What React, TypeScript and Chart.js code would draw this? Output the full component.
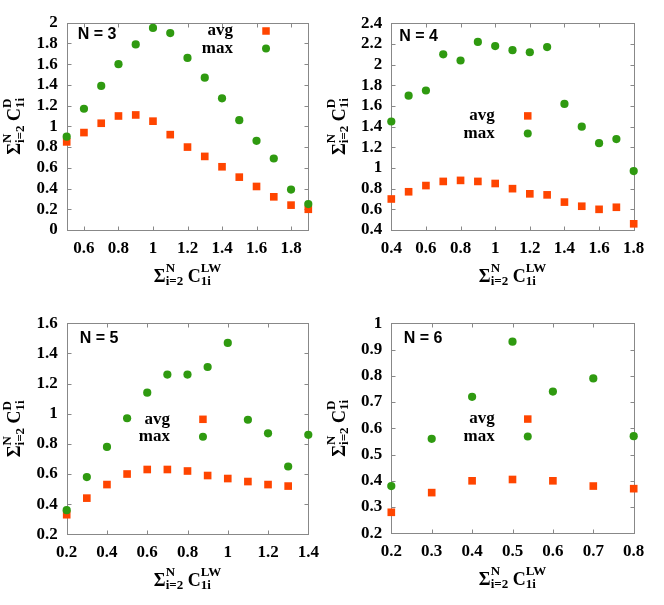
import React, { useEffect, useRef } from "react";
import { Chart, registerables } from "chart.js";

Chart.register(...registerables);

// ---------- data ----------
const n3X = [0.5, 0.6, 0.7, 0.8, 0.9, 1.0, 1.1, 1.2, 1.3, 1.4, 1.5, 1.6, 1.7, 1.8, 1.9];
const n3Avg = [0.85, 0.94, 1.03, 1.1, 1.11, 1.05, 0.92, 0.8, 0.71, 0.61, 0.51, 0.42, 0.32, 0.24, 0.2];
const n3Max = [0.9, 1.17, 1.39, 1.6, 1.79, 1.95, 1.9, 1.66, 1.47, 1.27, 1.06, 0.86, 0.69, 0.39, 0.25];
const n3XTicks = [0.6, 0.8, 1, 1.2, 1.4, 1.6, 1.8];
const n3YTicks = [0, 0.2, 0.4, 0.6, 0.8, 1, 1.2, 1.4, 1.6, 1.8, 2];

const n4X = [0.4, 0.5, 0.6, 0.7, 0.8, 0.9, 1.0, 1.1, 1.2, 1.3, 1.4, 1.5, 1.6, 1.7, 1.8];
const n4Avg = [0.7, 0.77, 0.83, 0.87, 0.88, 0.87, 0.85, 0.8, 0.75, 0.74, 0.67, 0.63, 0.6, 0.62, 0.46];
const n4Max = [1.45, 1.7, 1.75, 2.1, 2.04, 2.22, 2.18, 2.14, 2.12, 2.17, 1.62, 1.4, 1.24, 1.28, 0.97];
const n4XTicks = [0.4, 0.6, 0.8, 1, 1.2, 1.4, 1.6, 1.8];
const n4YTicks = [0.4, 0.6, 0.8, 1, 1.2, 1.4, 1.6, 1.8, 2, 2.2, 2.4];

const n5X = [0.2, 0.3, 0.4, 0.5, 0.6, 0.7, 0.8, 0.9, 1.0, 1.1, 1.2, 1.3, 1.4];
const n5Avg = [0.33, 0.44, 0.53, 0.6, 0.63, 0.63, 0.62, 0.59, 0.57, 0.55, 0.53, 0.52];
const n5Max = [0.36, 0.58, 0.78, 0.97, 1.14, 1.26, 1.26, 1.31, 1.47, 0.96, 0.87, 0.65, 0.86];
const n5XTicks = [0.2, 0.4, 0.6, 0.8, 1, 1.2, 1.4];
const n5YTicks = [0.2, 0.4, 0.6, 0.8, 1, 1.2, 1.4, 1.6];

const n6X = [0.2, 0.3, 0.4, 0.5, 0.6, 0.7, 0.8];
const n6Avg = [0.28, 0.355, 0.4, 0.405, 0.4, 0.38, 0.37];
const n6Max = [0.38, 0.56, 0.72, 0.93, 0.74, 0.79, 0.57];
const n6XTicks = [0.2, 0.3, 0.4, 0.5, 0.6, 0.7, 0.8];
const n6YTicks = [0.2, 0.3, 0.4, 0.5, 0.6, 0.7, 0.8, 0.9, 1];

const legendLabels = ["avg", "max"];

// ---------- styles ----------
const ORANGE = "#ff4500";
const GREEN = "#2f9a10";
const FRAME = "#888888";
const SERIF = "'Liberation Serif', 'Times New Roman', serif";
const SANS = "'Liberation Sans', Arial, sans-serif";

type Panel = {
  label: string;
  x: number[];
  avg: number[];
  max: number[];
  xMin: number;
  xMax: number;
  yMin: number;
  yMax: number;
  xTicks: number[];
  yTicks: number[];
  pos: { left: number; top: number; w: number; h: number };
  area: { l: number; t: number; r: number; b: number };
  legend: { fx: number; fy: number };
  tag: { dx: number; dy: number };
};

const PANELS: Panel[] = [
  {
    label: "N = 3", x: n3X, avg: n3Avg, max: n3Max, xMin: 0.5, xMax: 1.9, yMin: 0, yMax: 2,
    xTicks: n3XTicks, yTicks: n3YTicks,
    pos: { left: 0, top: 0, w: 332, h: 302 },
    area: { l: 66.7, t: 22.7, r: 308.3, b: 230 },
    legend: { fx: 0.825, fy: 0.04 },
    tag: { dx: 11, dy: 12 },
  },
  {
    label: "N = 4", x: n4X, avg: n4Avg, max: n4Max, xMin: 0.4, xMax: 1.8, yMin: 0.4, yMax: 2.4,
    xTicks: n4XTicks, yTicks: n4YTicks,
    pos: { left: 312, top: 0, w: 352, h: 302 },
    area: { l: 391.3, t: 23.3, r: 633.7, b: 230 },
    legend: { fx: 0.563, fy: 0.448 },
    tag: { dx: 8, dy: 13.4 },
  },
  {
    label: "N = 5", x: n5X, avg: n5Avg, max: n5Max, xMin: 0.2, xMax: 1.4, yMin: 0.2, yMax: 1.6,
    xTicks: n5XTicks, yTicks: n5YTicks,
    pos: { left: 0, top: 302, w: 332, h: 303 },
    area: { l: 66.7, t: 323.3, r: 308.3, b: 534.3 },
    legend: { fx: 0.564, fy: 0.455 },
    tag: { dx: 13, dy: 15 },
  },
  {
    label: "N = 6", x: n6X, avg: n6Avg, max: n6Max, xMin: 0.2, xMax: 0.8, yMin: 0.2, yMax: 1.0,
    xTicks: n6XTicks, yTicks: n6YTicks,
    pos: { left: 312, top: 302, w: 352, h: 303 },
    area: { l: 391.3, t: 323.3, r: 633.7, b: 533.3 },
    legend: { fx: 0.563, fy: 0.456 },
    tag: { dx: 12.4, dy: 15.7 },
  },
];

type MathPart = { t: string; sup?: string; sub?: string };
const xTitleParts: MathPart[] = [
  { t: "Σ", sup: "N", sub: "i=2" },
  { t: " " },
  { t: "C", sup: "LW", sub: "1i" },
];
const yTitleParts: MathPart[] = [
  { t: "Σ", sup: "N", sub: "i=2" },
  { t: " " },
  { t: "C", sup: "D", sub: "1i" },
];

const MAIN_FONT = `bold 18px ${SERIF}`;
const SCRIPT_FONT = `bold 13px ${SERIF}`;

function measureMath(ctx: CanvasRenderingContext2D, parts: MathPart[]) {
  let w = 0;
  for (const p of parts) {
    ctx.font = MAIN_FONT;
    w += ctx.measureText(p.t).width;
    ctx.font = SCRIPT_FONT;
    const sw = Math.max(p.sup ? ctx.measureText(p.sup).width : 0, p.sub ? ctx.measureText(p.sub).width : 0);
    w += sw;
  }
  return w;
}

function drawMath(ctx: CanvasRenderingContext2D, parts: MathPart[], cx: number, baseY: number) {
  const total = measureMath(ctx, parts);
  let x = cx - total / 2;
  ctx.fillStyle = "#000";
  ctx.textBaseline = "alphabetic";
  ctx.textAlign = "left";
  for (const p of parts) {
    ctx.font = MAIN_FONT;
    ctx.fillText(p.t, x, baseY);
    x += ctx.measureText(p.t).width;
    ctx.font = SCRIPT_FONT;
    let sw = 0;
    if (p.sup) {
      ctx.fillText(p.sup, x, baseY - 9.5);
      sw = Math.max(sw, ctx.measureText(p.sup).width);
    }
    if (p.sub) {
      ctx.fillText(p.sub, x, baseY + 3.5);
      sw = Math.max(sw, ctx.measureText(p.sub).width);
    }
    x += sw;
  }
}

function makePlugin(p: Panel) {
  return {
    id: "decor",
    beforeDatasetsDraw(chart: any) {
      const { ctx, chartArea: a, scales } = chart;
      ctx.save();
      ctx.strokeStyle = FRAME;
      ctx.lineWidth = 1;
      const L = Math.round(a.left) + 0.5;
      const R = Math.round(a.right) + 0.5;
      const T = Math.round(a.top) + 0.5;
      const B = Math.round(a.bottom) + 0.5;
      ctx.strokeRect(L, T, R - L, B - T);
      const tl = 4;
      ctx.beginPath();
      for (const t of scales.x.ticks) {
        const px = Math.round(scales.x.getPixelForValue(t.value)) + 0.5;
        ctx.moveTo(px, B);
        ctx.lineTo(px, B - tl);
        ctx.moveTo(px, T);
        ctx.lineTo(px, T + tl);
      }
      for (const t of scales.y.ticks) {
        const py = Math.round(scales.y.getPixelForValue(t.value)) + 0.5;
        ctx.moveTo(L, py);
        ctx.lineTo(L + tl, py);
        ctx.moveTo(R, py);
        ctx.lineTo(R - tl, py);
      }
      ctx.stroke();
      ctx.restore();
    },
    afterDraw(chart: any) {
      const { ctx, chartArea: a } = chart;
      const w = a.right - a.left;
      const h = a.bottom - a.top;
      ctx.save();
      // panel tag
      ctx.font = `bold 16px ${SANS}`;
      ctx.fillStyle = "#000";
      ctx.textAlign = "left";
      ctx.textBaseline = "middle";
      ctx.fillText(p.label, a.left + p.tag.dx, a.top + p.tag.dy);
      // legend
      const mx = a.left + p.legend.fx * w;
      const my = a.top + p.legend.fy * h;
      const rowGap = 17.5;
      ctx.font = `bold 17px ${SERIF}`;
      ctx.textAlign = "right";
      ctx.textBaseline = "middle";
      ctx.fillText(legendLabels[0], mx - 33, my);
      ctx.fillText(legendLabels[1], mx - 33, my + rowGap);
      ctx.fillStyle = ORANGE;
      ctx.fillRect(mx - 3.75, my - 3.75, 7.5, 7.5);
      ctx.fillStyle = GREEN;
      ctx.beginPath();
      ctx.arc(mx, my + rowGap, 4, 0, Math.PI * 2);
      ctx.fill();
      // axis titles
      const cx = (a.left + a.right) / 2;
      drawMath(ctx, xTitleParts, cx, a.bottom + 51.5);
      const cy = (a.top + a.bottom) / 2;
      ctx.translate(a.left - 46.5, cy);
      ctx.rotate(-Math.PI / 2);
      drawMath(ctx, yTitleParts, 0, 0);
      ctx.restore();
    },
  };
}

function PanelChart({ p }: { p: Panel }) {
  const ref = useRef<HTMLCanvasElement>(null);
  useEffect(() => {
    if (!ref.current) return;
    const tickFont = { family: SERIF, weight: "bold" as const, size: 17 };
    const chart = new Chart(ref.current, {
      type: "scatter",
      data: {
        datasets: [
          {
            label: legendLabels[1],
            data: p.max.map((y, i) => ({ x: p.x[i], y })),
            pointStyle: "circle",
            pointRadius: 4.1,
            backgroundColor: GREEN,
            borderColor: GREEN,
            borderWidth: 0,
            order: 0,
            clip: false,
          },
          {
            label: legendLabels[0],
            data: p.avg.map((y, i) => ({ x: p.x[i], y })),
            pointStyle: "rect",
            pointRadius: 5.4,
            backgroundColor: ORANGE,
            borderColor: ORANGE,
            borderWidth: 0,
            order: 1,
            clip: false,
          },
        ],
      },
      options: {
        animation: false,
        responsive: false,
        events: [],
        layout: {
          padding: {
            left: 0,
            top: p.area.t - p.pos.top,
            right: p.pos.left + p.pos.w - p.area.r,
            bottom: 0,
          },
        },
        plugins: { legend: { display: false }, tooltip: { enabled: false } },
        scales: {
          x: {
            type: "linear",
            min: p.xMin,
            max: p.xMax,
            afterBuildTicks: (s: any) => {
              s.ticks = p.xTicks.map((v) => ({ value: v }));
            },
            afterFit: (s: any) => {
              s.height = p.pos.top + p.pos.h - p.area.b;
            },
            grid: { display: false, drawTicks: false },
            border: { display: false },
            ticks: {
              padding: 8,
              color: "#000",
              font: tickFont,
              maxRotation: 0,
              autoSkip: false,
              callback: (v: any) => String(v),
            },
          },
          y: {
            type: "linear",
            min: p.yMin,
            max: p.yMax,
            afterBuildTicks: (s: any) => {
              s.ticks = p.yTicks.map((v) => ({ value: v }));
            },
            afterFit: (s: any) => {
              s.width = p.area.l - p.pos.left;
            },
            grid: { display: false, drawTicks: false },
            border: { display: false },
            ticks: {
              padding: 9,
              color: "#000",
              font: tickFont,
              autoSkip: false,
              callback: (v: any) => String(v),
            },
          },
        },
      },
      plugins: [makePlugin(p)],
    } as any);
    return () => chart.destroy();
  }, [p]);
  return (
    <canvas
      ref={ref}
      width={p.pos.w}
      height={p.pos.h}
      style={{
        position: "absolute",
        left: p.pos.left,
        top: p.pos.top,
        width: p.pos.w,
        height: p.pos.h,
        display: "block",
      }}
    />
  );
}

export default function App() {
  return (
    <div
      style={{
        position: "absolute",
        left: 0,
        top: 0,
        width: 664,
        height: 605,
        background: "#fff",
      }}
    >
      {PANELS.map((p) => (
        <PanelChart key={p.label} p={p} />
      ))}
    </div>
  );
}
